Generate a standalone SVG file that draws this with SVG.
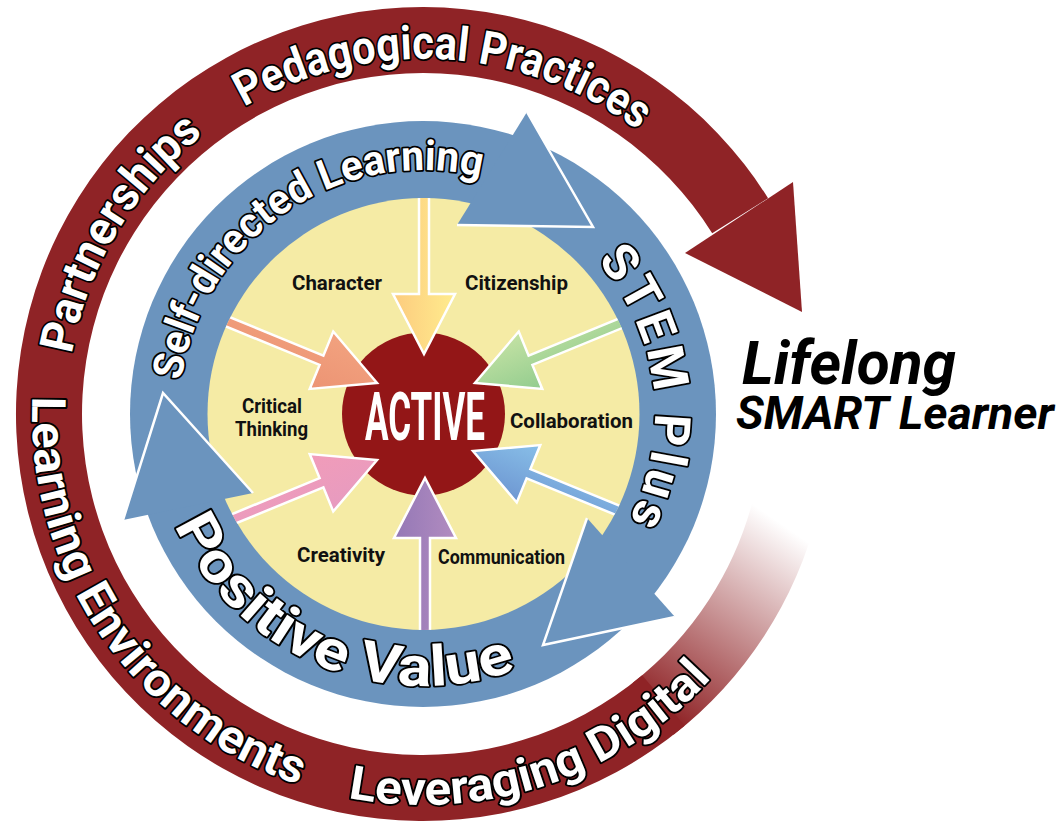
<svg xmlns="http://www.w3.org/2000/svg" width="1062" height="823" viewBox="0 0 1062 823">
<style>
.ring-red{fill:#8F2326}
.blue{fill:#6B94BE}
.bhead{fill:#6B94BE;stroke:#fff;stroke-width:2.5;stroke-linejoin:miter}
.arr{stroke:#fff;stroke-width:2.5;stroke-linejoin:miter}
.ot{font-family:Roboto,"Liberation Sans",sans-serif;font-weight:700;fill:#fff;stroke:#000;stroke-width:3.6;stroke-linejoin:round;paint-order:stroke}
.lbl{font-family:Roboto,"Liberation Sans",sans-serif;font-weight:700;font-size:21px;fill:#111}
.big{font-family:Roboto,"Liberation Sans",sans-serif;font-weight:700;font-style:italic;fill:#000}
</style>
<defs>
<linearGradient id="fade" gradientUnits="userSpaceOnUse" x1="780.7" y1="523.3" x2="653.3" y2="708.7">
<stop offset="0" stop-color="#8F2326" stop-opacity="0"/>
<stop offset="1" stop-color="#8F2326" stop-opacity="1"/>
</linearGradient>
<linearGradient id="gY" x1="0" y1="0" x2="0" y2="1"><stop offset="0" stop-color="#FFEC8E"/><stop offset="1" stop-color="#FCCB7E"/></linearGradient>
<linearGradient id="gO" x1="0" y1="0" x2="0" y2="1"><stop offset="0" stop-color="#F2A27F"/><stop offset="1" stop-color="#EC9474"/></linearGradient>
<linearGradient id="gG" x1="0" y1="0" x2="0" y2="1"><stop offset="0" stop-color="#92CC8E"/><stop offset="1" stop-color="#C4E2A4"/></linearGradient>
<linearGradient id="gP" x1="0" y1="0" x2="0" y2="1"><stop offset="0" stop-color="#F19CB9"/><stop offset="1" stop-color="#E79BC0"/></linearGradient>
<linearGradient id="gB" x1="0" y1="0" x2="0" y2="1"><stop offset="0" stop-color="#6E97D2"/><stop offset="1" stop-color="#88BFE8"/></linearGradient>
<linearGradient id="gV" x1="0" y1="0" x2="0" y2="1"><stop offset="0" stop-color="#9478B6"/><stop offset="1" stop-color="#B28CC0"/></linearGradient>
<clipPath id="yclip"><circle cx="423.5" cy="414" r="216"/></clipPath>
<path id="arrowShape" d="M-240,-5 L-60,-5 L-60,-31 L0,0 L-60,31 L-60,5 L-240,5 Z"/>
<path id="pRedTop" d="M112.9,592.1 A357,357 0 1 1 774.6,352"/>
<path id="pRedBot" d="M55.6,280.3 A391,391 0 1 0 814,414"/>
<path id="pBlueTop" d="M211.7,536 A244,244 0 1 1 663.3,371.6"/>
<path id="pBlueRight" d="M382.7,185.5 A232,232 0 1 1 382.7,642.5"/>
<path id="pBlueBot" d="M167.4,321 A272,272 0 1 0 678.6,321"/>
</defs>

<g id="outer-ring">
<path fill="url(#fade)" d="M817.9,512.5 A407,407 0 0 1 673.6,734.7 L632.9,682.7 A341,341 0 0 0 753.9,496.5 Z"/>
<path class="ring-red" d="M684.6,725.8 A407,407 0 1 1 768.1,198.3 L712.2,233.3 A341,341 0 1 0 642.2,675.2 Z"/>
<polygon class="ring-red" points="685,253 802,312 793,182"/>
</g>

<g id="blue-ring">
<circle class="blue" cx="423" cy="414" r="293"/>
</g>

<g id="core">
<circle cx="423.5" cy="414" r="216" fill="#F5EBA5"/>
<circle cx="423.5" cy="414" r="81.5" fill="#931617"/>
</g>

<g id="connectors" clip-path="url(#yclip)">
<use href="#arrowShape" class="arr" fill="url(#gY)" transform="translate(424,354) rotate(90)"/>
<use href="#arrowShape" class="arr" fill="url(#gV)" transform="translate(425,478) rotate(-90)"/>
<use href="#arrowShape" class="arr" fill="url(#gO)" transform="translate(377,383) rotate(22.3)"/>
<use href="#arrowShape" class="arr" fill="url(#gG)" transform="translate(475,383) rotate(157.7)"/>
<use href="#arrowShape" class="arr" fill="url(#gP)" transform="translate(377,460) rotate(-22.3)"/>
<use href="#arrowShape" class="arr" fill="url(#gB)" transform="translate(473,451) rotate(202.3)"/>
</g>

<g id="blue-arrowheads">
<path class="bhead" d="M527,112 L593,227 L457,225"/>
<path class="bhead" d="M675,617 L543,645 L587,518"/>
<path class="bhead" d="M123,520 L163,393 L253,493"/>
</g>

<g id="ring-labels">
<text class="ot" font-size="47"><textPath href="#pRedTop" startOffset="246" textLength="262" lengthAdjust="spacingAndGlyphs">Partnerships</textPath></text>
<text class="ot" font-size="47"><textPath href="#pRedTop" startOffset="557" textLength="418" lengthAdjust="spacingAndGlyphs">Pedagogical Practices</textPath></text>
<text class="ot" font-size="47"><textPath href="#pRedBot" startOffset="119" textLength="505" lengthAdjust="spacingAndGlyphs">Learning Environments</textPath></text>
<text class="ot" font-size="47"><textPath href="#pRedBot" startOffset="675" textLength="400" lengthAdjust="spacingAndGlyphs">Leveraging Digital</textPath></text>
<text class="ot" font-size="42"><textPath href="#pBlueTop" startOffset="161" textLength="408" lengthAdjust="spacingAndGlyphs">Self-directed Learning</textPath></text>
<text class="ot" font-size="50"><textPath href="#pBlueRight" startOffset="237" textLength="278">STEM Plus</textPath></text>
<text class="ot" font-size="56"><textPath href="#pBlueBot" startOffset="209" textLength="408" lengthAdjust="spacingAndGlyphs">Positive Value</textPath></text>
</g>

<g id="active">
<text x="425" y="440" font-family="Roboto,'Liberation Sans',sans-serif" font-weight="700" font-size="66" fill="#fff" text-anchor="middle" textLength="120" lengthAdjust="spacingAndGlyphs">ACTIVE</text>
</g>

<g id="labels">
<text class="lbl" x="292" y="290" textLength="90" lengthAdjust="spacingAndGlyphs">Character</text>
<text class="lbl" x="465" y="290" textLength="103" lengthAdjust="spacingAndGlyphs">Citizenship</text>
<text class="lbl" x="242" y="413" textLength="60" lengthAdjust="spacingAndGlyphs">Critical</text>
<text class="lbl" x="235" y="436" textLength="73" lengthAdjust="spacingAndGlyphs">Thinking</text>
<text class="lbl" x="510" y="428" textLength="123" lengthAdjust="spacingAndGlyphs">Collaboration</text>
<text class="lbl" x="297" y="562" textLength="88" lengthAdjust="spacingAndGlyphs">Creativity</text>
<text class="lbl" x="438" y="564" textLength="127" lengthAdjust="spacingAndGlyphs">Communication</text>
</g>

<g id="title">
<text class="big" x="742" y="384" font-size="61" textLength="214" lengthAdjust="spacingAndGlyphs">Lifelong</text>
<text class="big" x="736" y="429" font-size="46" textLength="318" lengthAdjust="spacingAndGlyphs">SMART Learner</text>
</g>
</svg>
